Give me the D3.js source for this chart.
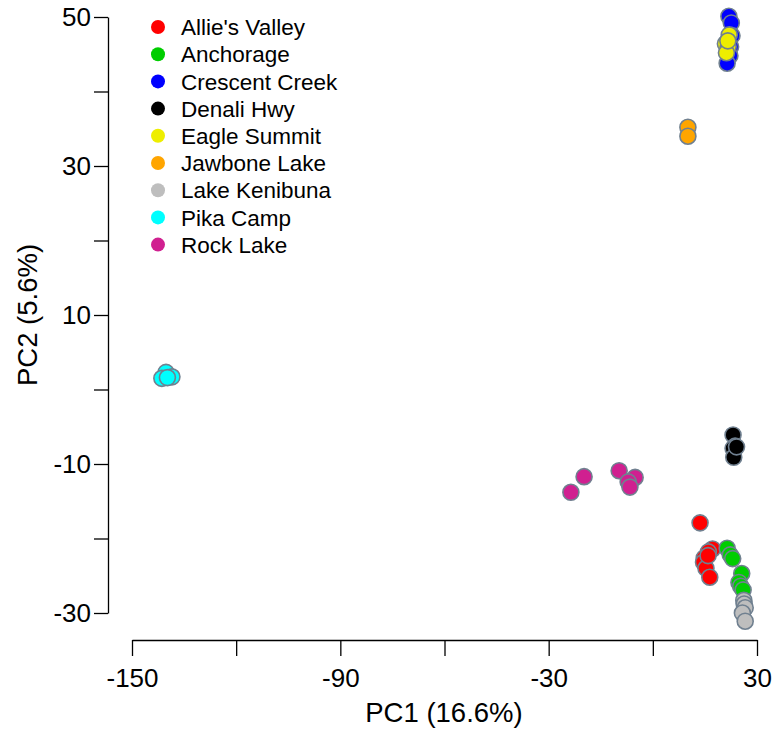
<!DOCTYPE html>
<html>
<head>
<meta charset="utf-8">
<script src="https://cdn.jsdelivr.net/npm/d3@7"></script>
<style>
  body { margin: 0; background: #fff; }
  text { font-family: "Liberation Sans", Arial, sans-serif; }
</style>
</head>
<body>
<div id="chart"></div>
<script>
// populations, legend order
const pops = ["Allie's Valley","Anchorage","Crescent Creek","Denali Hwy","Eagle Summit",
              "Jawbone Lake","Lake Kenibuna","Pika Camp","Rock Lake"];
const popColors = ["#ff0000","#00cd00","#0000ff","#000000","#eeee00",
                   "#ffa500","#bebebe","#00ffff","#d02090"];

// PC scores, [PC1, PC2]
const alliesValley = [[13.6,-17.9],[17.2,-21.4],[16.0,-21.8],[14.8,-22.6],[14.6,-23.2],[15.3,-24.0],[16.4,-25.2],[15.9,-22.3]];
const anchorage = [[21.4,-21.3],[22.3,-22.2],[23.0,-22.7],[25.6,-24.7],[24.8,-25.9],[25.3,-26.4],[26.0,-26.9]];
const crescentCreek = [[21.9,50.1],[22.6,49.2],[22.8,47.5],[22.4,46.0],[22.2,44.8],[21.4,43.8]];
const denaliHwy = [[23.1,-6.1],[23.7,-7.6],[23.1,-7.9],[23.3,-9.1],[24.1,-7.7]];
const eagleSummit = [[22.0,47.6],[20.9,46.4],[21.7,46.0],[21.2,45.2],[21.6,46.8]];
const jawboneLake = [[10.1,35.2],[10.1,34.0]];
const lakeKenibuna = [[26.2,-28.3],[26.3,-28.8],[26.6,-29.3],[25.8,-30.0],[26.6,-31.1]];
const pikaCamp = [[-140.2,2.3],[-138.5,1.7],[-141.4,1.5],[-139.8,1.6]];
const rockLake = [[-19.8,-11.7],[-23.6,-13.8],[-9.7,-10.9],[-5.1,-11.8],[-7.1,-12.4],[-6.6,-13.1]];

const groups = [alliesValley, anchorage, crescentCreek, denaliHwy, eagleSummit,
                jawboneLake, lakeKenibuna, pikaCamp, rockLake];

const xTicks = [-150,-120,-90,-60,-30,0,30];
const xLabels = [-150,-90,-30,30];
const yTicks = [-30,-20,-10,0,10,20,30,40,50];
const yLabels = [-30,-10,10,30,50];

const W = 777, H = 730;
const svg = d3.select('#chart').append('svg').attr('width',W).attr('height',H);

const x = d3.scaleLinear().domain([-150,30]).range([132,757]);
const y = d3.scaleLinear().domain([-30,50]).range([613,17]);

// x axis
const gx = svg.append('g').attr('transform','translate(0,640)')
  .call(d3.axisBottom(x).tickValues(xTicks).tickSize(16).tickSizeOuter(0)
    .tickFormat(d => xLabels.includes(d) ? d : ''));
gx.select('.domain').attr('stroke','#000').attr('stroke-width',1.3);
gx.selectAll('.tick line').attr('stroke-width',1.3);
gx.selectAll('.tick text').attr('font-size',26).attr('dy','1.08em').attr('fill','#000')
  .attr('font-family','"Liberation Sans", Arial, sans-serif');

// y axis
const gy = svg.append('g').attr('transform','translate(108,0)')
  .call(d3.axisLeft(y).tickValues(yTicks).tickSize(14).tickSizeOuter(0)
    .tickFormat(d => yLabels.includes(d) ? d : ''));
gy.select('.domain').attr('stroke','#000').attr('stroke-width',1.3);
gy.selectAll('.tick line').attr('stroke-width',1.3);
gy.selectAll('.tick text').attr('font-size',26).attr('x',-17).attr('fill','#000')
  .attr('font-family','"Liberation Sans", Arial, sans-serif');

svg.append('text').attr('x',444).attr('y',722).attr('text-anchor','middle')
  .attr('font-size',27.5).text('PC1 (16.6%)');
svg.append('text').attr('transform','translate(37,315) rotate(-90)')
  .attr('text-anchor','middle').attr('font-size',27.5).text('PC2 (5.6%)');

// points
groups.forEach((pts,i) => {
  svg.append('g').selectAll('circle').data(pts).enter().append('circle')
    .attr('cx', d => x(d[0])).attr('cy', d => y(d[1])).attr('r',8)
    .attr('fill', popColors[i]).attr('stroke','#708090').attr('stroke-width',1.6);
});

// legend
const lg = svg.append('g').attr('transform','translate(158,27)');
const row = lg.selectAll('g').data(pops).enter().append('g')
  .attr('transform', (d,i) => 'translate(0,'+(i*27.2)+')');
row.append('circle').attr('r',7).attr('fill', (d,i) => popColors[i]);
row.append('text').attr('x',23).attr('dy','0.36em').attr('font-size',22.5).text(d => d);
</script>
</body>
</html>
